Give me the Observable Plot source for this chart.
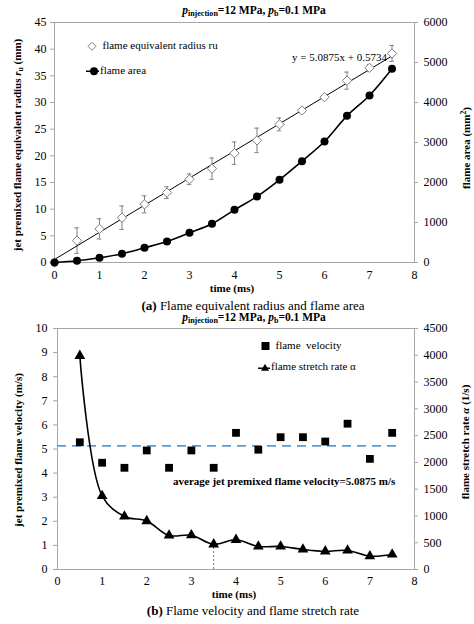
<!DOCTYPE html>
<html><head><meta charset="utf-8">
<script src="https://cdn.jsdelivr.net/npm/d3@7"></script>
<script src="https://cdn.jsdelivr.net/npm/@observablehq/plot@0.6"></script>
<style>
body{margin:0;background:#fff;font-family:"Liberation Serif",serif;color:#000}
#wrap{position:relative;width:474px;height:624px;overflow:hidden}
#wrap svg.plot{position:absolute;left:0;font-family:"Liberation Serif",serif !important}
#wrap svg.plot text, #wrap svg.plot g{font-family:"Liberation Serif",serif !important;font-variant:normal !important}
.abs{position:absolute;white-space:nowrap;line-height:1}
.c{transform:translate(-50%,-50%)}
.l{transform:translate(0,-50%)}
.rot{transform:translate(-50%,-50%) rotate(-90deg)}
.b{font-weight:bold}
sub{font-size:0.7em;vertical-align:-0.25em}
sup{font-size:0.7em;vertical-align:0.45em}
.cap{font-size:13px}
.lab{font-size:11px;font-weight:bold}
.ttl{font-size:11.5px;font-weight:bold}
.leg{font-size:11px}
.leg svg{vertical-align:middle}
</style></head><body><div id="wrap"></div>
<script>
// ---------- Panel (a) data ----------
const timeA = [0, 0.5, 1, 1.5, 2, 2.5, 3, 3.5, 4, 4.5, 5, 5.5, 6, 6.5, 7, 7.5];
const radius = [0, 4.1, 6.3, 8.4, 10.9, 13.1, 15.6, 17.6, 20.5, 22.9, 25.9, 28.5, 31.0, 34.1, 36.5, 39.2];
const radiusErr = [0, 2.4, 1.9, 2.2, 1.6, 1.1, 1.0, 2.0, 2.1, 2.3, 1.2, 0.4, 0.4, 1.6, 0.6, 1.5];
const area = [0, 42, 117, 217, 367, 525, 741, 967, 1317, 1650, 2067, 2533, 3025, 3667, 4175, 4842];
const trendSlope = 5.0875, trendIntercept = 0.5734, trendRange = [0, 7.5];
const xTicks = [0, 1, 2, 3, 4, 5, 6, 7, 8];
const leftTicksA = [0, 5, 10, 15, 20, 25, 30, 35, 40, 45];
const rightTicksA = [0, 1000, 2000, 3000, 4000, 5000, 6000];

// ---------- Panel (b) data ----------
const timeB = [0.5, 1, 1.5, 2, 2.5, 3, 3.5, 4, 4.5, 5, 5.5, 6, 6.5, 7, 7.5];
const velocity = [5.28, 4.43, 4.22, 4.94, 4.22, 4.94, 4.22, 5.67, 4.97, 5.49, 5.49, 5.31, 6.05, 4.59, 5.67];
const stretch = [3990, 1375, 990, 905, 635, 640, 470, 555, 430, 430, 375, 340, 355, 250, 280];
const avgVelocity = 5.13, avgRange = [0, 7.65];
const markTime = 3.5;
const leftTicksB = [0, 1, 2, 3, 4, 5, 6, 7, 8, 9, 10];
const rightTicksB = [0, 500, 1000, 1500, 2000, 2500, 3000, 3500, 4000, 4500];

const wrap = document.getElementById("wrap");
const gray = "#a6a6a6";
const serif = '"Liberation Serif", serif';
const baseStyle = {fontFamily: serif, fontSize: "12px", color: "#000", background: "transparent", overflow: "visible"};
const axisFont = {fontFamily: serif, fontSize: 12};

// ---------- Panel (a) ----------
const kA = 45 / 6000;
const dataA = timeA.map((t, i) => ({t, r: radius[i], e: radiusErr[i], area: area[i]}));
const errA = dataA.filter(d => d.e > 0);
const trend = trendRange.map(t => ({t, y: trendSlope * t + trendIntercept}));

const plotA = Plot.plot({
  width: 474, height: 300,
  marginLeft: 54, marginRight: 60, marginTop: 22, marginBottom: 38,
  x: {domain: [0, 8]}, y: {domain: [0, 45]},
  style: baseStyle,
  marks: [
    Plot.frame({stroke: gray}),
    Plot.axisX({...axisFont, ticks: xTicks, tickSize: 0, tickPadding: 8, label: null, tickFormat: d => d}),
    Plot.axisY({...axisFont, anchor: "left", ticks: leftTicksA, tickSize: 4, tickPadding: 4, label: null, stroke: gray}),
    Plot.axisY({...axisFont, anchor: "right", ticks: rightTicksA.map(v => v * kA), tickFormat: d => String(Math.round(d / kA)), tickSize: 3, tickPadding: 6, label: null, stroke: gray}),
    Plot.ruleX(errA, {x: "t", y1: d => d.r - d.e, y2: d => d.r + d.e, stroke: "#808080", strokeWidth: 1}),
    Plot.ruleY(errA, {y: d => d.r + d.e, x1: d => d.t - 0.05, x2: d => d.t + 0.05, stroke: "#808080"}),
    Plot.ruleY(errA, {y: d => d.r - d.e, x1: d => d.t - 0.05, x2: d => d.t + 0.05, stroke: "#808080"}),
    Plot.line(trend, {x: "t", y: "y", stroke: "#000", strokeWidth: 1}),
    Plot.dot(dataA, {x: "t", y: "r", symbol: "diamond2", r: 4.2, stroke: "#808080", fill: "white", strokeWidth: 1}),
    Plot.line(dataA, {x: "t", y: d => d.area * kA, curve: "catmull-rom", stroke: "#000", strokeWidth: 1.6}),
    Plot.dot(dataA, {x: "t", y: d => d.area * kA, r: 4, fill: "#000", stroke: "none"})
  ]
});
plotA.classList.add("plot");
plotA.style.top = "0px";
wrap.appendChild(plotA);

// ---------- Panel (b) ----------
const kB = 10 / 4500;
const dataB = timeB.map((t, i) => ({t, v: velocity[i], s: stretch[i]}));
const markRow = dataB.find(d => d.t === markTime);

const plotB = Plot.plot({
  width: 474, height: 300,
  marginLeft: 57, marginRight: 60, marginTop: 28, marginBottom: 31,
  x: {domain: [0, 8]}, y: {domain: [0, 10]},
  style: baseStyle,
  marks: [
    Plot.frame({stroke: gray}),
    Plot.axisX({...axisFont, ticks: xTicks, tickSize: 0, tickPadding: 7, label: null, tickFormat: d => d}),
    Plot.axisY({...axisFont, anchor: "left", ticks: leftTicksB, tickSize: 4, tickPadding: 6, label: null, stroke: gray}),
    Plot.axisY({...axisFont, anchor: "right", ticks: rightTicksB.map(v => v * kB), tickFormat: d => String(Math.round(d / kB)), tickSize: 3, tickPadding: 6, label: null, stroke: gray}),
    Plot.ruleY([avgVelocity], {x1: avgRange[0], x2: avgRange[1], stroke: "#5b9bd5", strokeWidth: 1.6, strokeDasharray: "9,6"}),
    Plot.ruleX([markRow], {x: "t", y1: 0, y2: d => d.s * kB, stroke: "#e04040", strokeWidth: 1, strokeDasharray: "2,2"}),
    Plot.line(dataB, {x: "t", y: d => d.s * kB, curve: "catmull-rom", stroke: "#000", strokeWidth: 1.6}),
    Plot.dot(dataB, {x: "t", y: d => d.s * kB, symbol: "triangle", r: 4, fill: "#000", stroke: "none"}),
    Plot.dot(dataB, {x: "t", y: "v", symbol: "square", r: 4.4, fill: "#000", stroke: "none"})
  ]
});
plotB.classList.add("plot");
plotB.style.top = "300px";
wrap.appendChild(plotB);

// ---------- HTML texts ----------
function add(html, x, y, cls) {
  const d = document.createElement("div");
  d.className = "abs " + cls;
  d.style.left = x + "px"; d.style.top = y + "px";
  d.innerHTML = html;
  wrap.appendChild(d);
}
const titleHTML = '<i>p</i><sub>injection</sub>=12 MPa, <i>p</i><sub>b</sub>=0.1 MPa';
add(titleHTML, 254, 12, "c ttl");
add(titleHTML, 254, 319, "c ttl");

add('jet premixed flame equivalent radius <i>r</i><sub>u</sub> (mm)', 18, 145, "rot lab");
add('flame area (mm<sup>2</sup>)', 466, 148, "rot lab");
add('time (ms)', 232, 288, "c lab");
add('<b>(a)</b> Flame equivalent radius and flame area', 253, 305, "c cap");

add('jet premixed flame velocity (m/s)', 18, 450, "rot lab");
add('flame stretch rate <i>α</i> (1/s)', 465, 442, "rot lab");
add('time (ms)', 234, 594, "c lab");
add('<b>(b)</b> Flame velocity and flame stretch rate', 253, 610, "c cap");

add('y = 5.0875x + 0.5734', 292, 57, "l leg");
add('average jet premixed flame velocity=5.0875 m/s', 173, 481, "l lab");

// legends
add('<svg width="10" height="10"><path d="M5,1 L9,5 L5,9 L1,5 Z" fill="white" stroke="#808080"/></svg>&nbsp;&nbsp;flame equivalent radius ru', 87, 46, "l leg");
add('<svg width="14" height="10"><line x1="0" y1="5" x2="13" y2="5" stroke="#000" stroke-width="1.6"/><circle cx="8" cy="5" r="4" fill="#000"/></svg>flame area', 86, 71, "l leg");
add('<svg width="9" height="9"><rect x="0.5" y="0.5" width="8" height="8" fill="#000"/></svg>&nbsp;&nbsp;flame&nbsp; velocity', 261, 345, "l leg");
add('<svg width="13" height="10"><line x1="0" y1="6" x2="12" y2="6" stroke="#000" stroke-width="1.4"/><path d="M7,1.5 L11,8.5 L3,8.5 Z" fill="#000"/></svg>flame stretch rate α', 258, 367, "l leg");
</script>
</body></html>
